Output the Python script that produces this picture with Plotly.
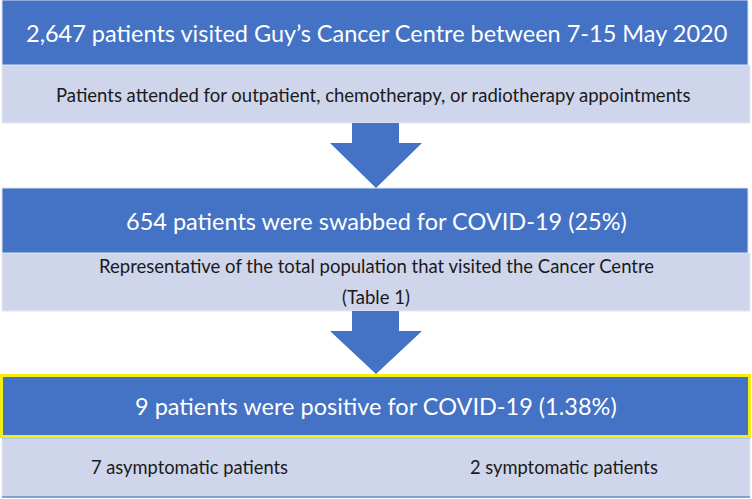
import plotly.graph_objects as go

# ---- content ----
titles = [
    "2,647 patients visited Guy’s Cancer Centre between 7-15 May 2020",
    "654 patients were swabbed for COVID-19 (25%)",
    "9 patients were positive for COVID-19 (1.38%)",
]
details = [
    ["Patients attended for outpatient, chemotherapy, or radiotherapy appointments"],
    ["Representative of the total population that visited the Cancer Centre", "(Table 1)"],
]
split_labels = ["7 asymptomatic patients", "2 symptomatic patients"]

# ---- layout geometry (pixels, y downward) ----
W, H = 752, 499
X0, X1 = 2, 750
dark_rows = [(0, 65), (188, 253), (375, 437)]
light_rows = [(65, 123), (253, 311), (438, 497)]
arrows = [(123, 143, 188), (311, 331, 374)]

DARK = "#4472C4"
LIGHT = "#CFD5EA"
FONT = "Lato"

fig = go.Figure()
shapes = []
annotations = []

for i, (y0, y1) in enumerate(light_rows):
    shapes.append(dict(type="rect", x0=X0, x1=X1, y0=y0, y1=y1,
                       fillcolor=LIGHT, line=dict(color="#E4E8F4", width=1), layer="below"))
    if i == 2:
        shapes.append(dict(type="line", x0=X0, x1=X1, y0=y1, y1=y1,
                           line=dict(color="#7F9FD6", width=2)))
        shapes.append(dict(type="line", x0=X0, x1=X1, y0=y0, y1=y0,
                           line=dict(color="#8EA9DB", width=1)))

for i, (y0, y1) in enumerate(dark_rows):
    if i == 2:
        shapes.append(dict(type="rect", x0=X0 - 0.5, x1=X1 - 0.5, y0=y0 + 0.5, y1=y1 - 0.5,
                           fillcolor=DARK, line=dict(color="#F5EC12", width=3)))
    else:
        shapes.append(dict(type="rect", x0=X0, x1=X1 - 2, y0=y0, y1=y1,
                           fillcolor=DARK, line=dict(color="#D9E1F2", width=1)))

for (ys, yh, yt) in arrows:
    cx = 376
    path = (f"M {cx-24},{ys} L {cx+23},{ys} L {cx+23},{yh} L {cx+46},{yh} "
            f"L {cx},{yt} L {cx-46},{yh} L {cx-24},{yh} Z")
    shapes.append(dict(type="path", path=path, fillcolor=DARK, line=dict(width=0)))

# titles
for t, (y0, y1) in zip(titles, dark_rows):
    annotations.append(dict(x=376, y=(y0 + y1) / 2, text=t, showarrow=False,
                            xanchor="center", yanchor="middle",
                            font=dict(family=FONT, size=23.5, color="white")))

# details
annotations.append(dict(x=373, y=95, text=details[0][0], showarrow=False,
                        xanchor="center", yanchor="middle",
                        font=dict(family=FONT, size=18.5, color="#1a1a1a")))
for j, line in enumerate(details[1]):
    annotations.append(dict(x=376, y=266 + j * 31, text=line, showarrow=False,
                            xanchor="center", yanchor="middle",
                            font=dict(family=FONT, size=18.5, color="#1a1a1a")))

for lbl, cx in zip(split_labels, [189, 564]):
    annotations.append(dict(x=cx, y=467, text=lbl, showarrow=False,
                            xanchor="center", yanchor="middle",
                            font=dict(family=FONT, size=18.3, color="#1a1a1a")))

fig.update_layout(
    width=W, height=H,
    margin=dict(l=0, r=0, t=0, b=0),
    paper_bgcolor="white", plot_bgcolor="white",
    xaxis=dict(range=[0, W], visible=False, fixedrange=True),
    yaxis=dict(range=[H, 0], visible=False, fixedrange=True),
    shapes=shapes, annotations=annotations, showlegend=False,
)
fig.write_html("out.html", config={"displayModeBar": False},
               post_script="document.body.style.margin='0';document.body.style.overflow='hidden';")
